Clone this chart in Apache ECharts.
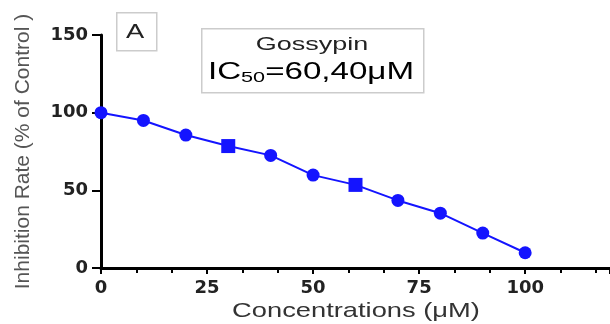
<!DOCTYPE html>
<html>
<head>
<meta charset="utf-8">
<script src="https://cdn.jsdelivr.net/npm/echarts@6/dist/echarts.min.js"></script>
<style>
  html, body { margin: 0; padding: 0; background: #fff; }
  #chart { width: 610px; height: 324px; }
</style>
</head>
<body>
<div id="chart"></div>
<script>
// concentrations (uM) and inhibition rate (% of control)
const concentrations = [0, 10, 20, 30, 40, 50, 60, 70, 80, 90, 100];
const inhibitionRate = [100, 95, 85.6, 78.5, 72.5, 59.8, 53.5, 43.5, 35.3, 22.5, 9.8];
// points drawn with a square marker in the original
const squarePoints = [30, 60];

const chartDom = document.getElementById("chart");
const myChart = echarts.init(chartDom);

const seriesData = concentrations.map((c, i) => ({
  value: [c, inhibitionRate[i]],
  symbol: squarePoints.includes(c) ? "rect" : "circle",
  symbolSize: squarePoints.includes(c) ? 14 : 13,
}));

// tick labels in the original are wide and bold
const axisFont = { fontFamily: "DejaVu Sans", fontSize: 18, fontWeight: "bold", color: "#222" };
const stretch = 1.44; // the original image is stretched sideways

const option = {
  animation: false,
  grid: { left: 101, right: 0, top: 35, bottom: 56, outerBoundsMode: "none" },
  xAxis: {
    type: "value",
    min: 0,
    max: 120,
    interval: 25,
    axisLine: { lineStyle: { color: "#000", width: 3 } },
    axisTick: { length: 6, lineStyle: { color: "#000", width: 2 } },
    minorTick: { show: true, splitNumber: 3, length: 5, lineStyle: { color: "#000", width: 2 } },
    axisLabel: Object.assign({ margin: 11, showMaxLabel: false }, axisFont),
    splitLine: { show: false },
  },
  yAxis: {
    type: "value",
    min: 0,
    max: 150,
    interval: 50,
    name: "Inhibition Rate (% of Control )",
    nameLocation: "middle",
    nameGap: 67,
    nameTextStyle: { fontFamily: "Liberation Sans", fontSize: 21, color: "#555" },
    axisLine: { show: true, lineStyle: { color: "#000", width: 3 } },
    axisTick: { show: true, length: 9, lineStyle: { color: "#000", width: 2 } },
    axisLabel: Object.assign({ margin: 13 }, axisFont),
    splitLine: { show: false },
  },
  graphic: [
    {
      type: "rect",
      left: 116, top: 12,
      shape: { width: 40, height: 38 },
      style: { fill: "#fff", stroke: "#ccc", lineWidth: 1.5 },
    },
    {
      type: "text",
      x: 135, y: 32, scaleX: 1.3,
      style: { text: "A", font: "21px Liberation Sans", fill: "#222", align: "center", verticalAlign: "middle" },
    },
    {
      type: "rect",
      left: 201, top: 28,
      shape: { width: 222, height: 64 },
      style: { fill: "#fff", stroke: "#ccc", lineWidth: 1.5 },
    },
    {
      type: "text",
      x: 312, y: 45, scaleX: 1.42,
      style: { text: "Gossypin", font: "19px Liberation Sans", fill: "#222", align: "center", verticalAlign: "middle" },
    },
    {
      type: "text",
      x: 311, y: 73, scaleX: stretch,
      style: {
        text: "{a|IC}{s|50}{a|=60,40\u03bcM}",
        align: "center",
        verticalAlign: "middle",
        rich: {
          a: { fontFamily: "Liberation Sans", fontSize: 23, color: "#222" },
          s: { fontFamily: "Liberation Sans", fontSize: 15, color: "#222", padding: [9, 0, 0, 0] },
        },
      },
    },
    {
      // x axis title
      type: "text",
      x: 356, y: 311, scaleX: 1.3,
      style: { text: "Concentrations (\u03bcM)", font: "21px Liberation Sans", fill: "#333", align: "center", verticalAlign: "middle" },
    },
  ],
  series: [
    {
      name: "Gossypin",
      type: "line",
      data: seriesData,
      lineStyle: { color: "#1414ff", width: 2 },
      itemStyle: { color: "#1414ff" },
    },
  ],
};

option && myChart.setOption(option);
</script>
</body>
</html>
